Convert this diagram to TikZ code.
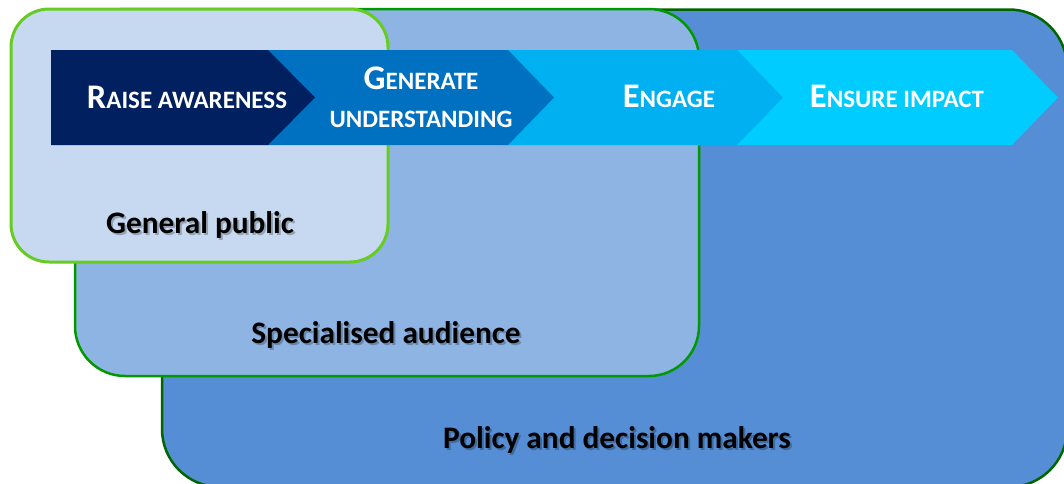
\documentclass[tikz,border=0pt]{standalone}
\usepackage{fontspec}
\setmainfont{Carlito}
\definecolor{smallfill}{HTML}{C6D9F1}
\definecolor{smallline}{HTML}{66CC22}
\definecolor{midfill}{HTML}{8EB4E3}
\definecolor{midline}{HTML}{009900}
\definecolor{bigfill}{HTML}{558ED5}
\definecolor{bigline}{HTML}{006600}
\definecolor{segA}{HTML}{002060}
\definecolor{segB}{HTML}{0070C0}
\definecolor{segC}{HTML}{00B0F0}
\definecolor{segD}{HTML}{00CCFF}
\newcommand{\fsc}[2]{{\fontsize{34.5}{34.5}\selectfont #1}{\fontsize{25}{25}\selectfont #2}}
\tikzset{
  audbox/.style={rounded corners=#1, line width=2.5pt},
  segtext/.style={text=white, font=\bfseries, anchor=base, inner sep=0pt},
  audlabel/.style={font=\bfseries\fontsize{31.3}{31.3}\selectfont, anchor=base, inner sep=0pt, text=black},
  audshadow/.style={font=\bfseries\fontsize{31.3}{31.3}\selectfont, anchor=base, inner sep=0pt, text=black, opacity=0.25}
}
\begin{document}
\begin{tikzpicture}[x=1pt,y=-1pt]
\useasboundingbox (0,0) rectangle (1064,483);
% audience boxes
\draw[audbox=58, fill=bigfill, draw=bigline] (162,9.5) rectangle (1067,487);
\draw[audbox=50, fill=midfill, draw=midline] (75,9) rectangle (699,376);
\draw[audbox=38, fill=smallfill, draw=smallline, line width=3pt] (11,9) rectangle (388,262);
% chevrons
\fill[segD] (737,50) -- (1012,50) -- (1058,97.5) -- (1012,145) -- (737,145) -- cycle;
\fill[segC] (508,50) -- (737,50) -- (783,97.5) -- (737,145) -- (508,145) -- cycle;
\fill[segB] (268,50) -- (508,50) -- (554,97.5) -- (508,145) -- (268,145) -- cycle;
\fill[segA] (51,50) -- (268,50) -- (315,97.5) -- (268,145) -- (51,145) -- cycle;
\node[segtext] (raise) at (187,108) {\fsc{R}{AISE AWARENESS}};
\node[segtext] (gen1) at (421,89) {\fsc{G}{ENERATE}};
\node[segtext] (gen2) at (421,127) {\fsc{}{UNDERSTANDING}};
\node[segtext] (engage) at (669,107) {\fsc{E}{NGAGE}};
\node[segtext] (ensure) at (897,107) {\fsc{E}{NSURE IMPACT}};
% labels
\node[audshadow] at (202,235) {General public};
\node[audlabel] (general) at (200,233) {General public};
\node[audshadow] at (388,345) {Specialised audience};
\node[audlabel] (special) at (386,343) {Specialised audience};
\node[audshadow] at (619,450) {Policy and decision makers};
\node[audlabel] (policy) at (617,448) {Policy and decision makers};
\end{tikzpicture}
\end{document}
